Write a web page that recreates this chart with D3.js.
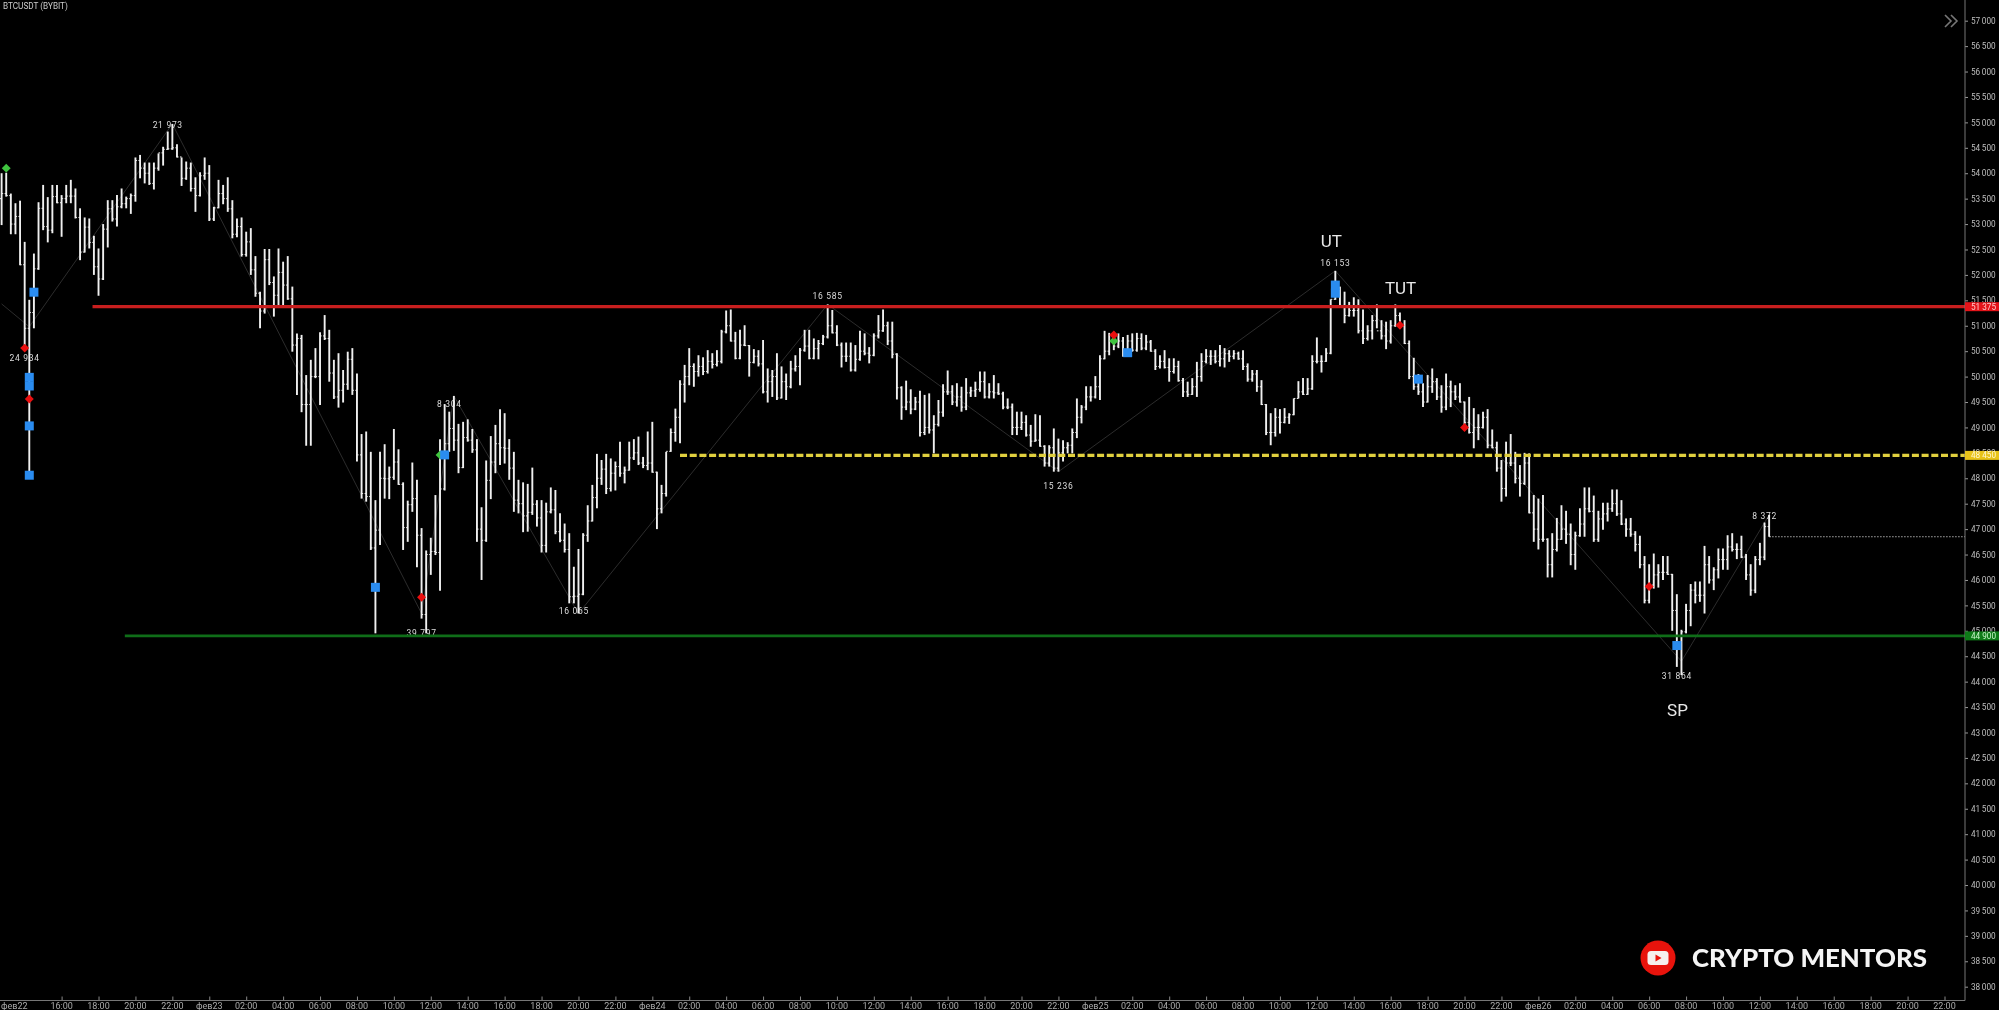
<!DOCTYPE html>
<html><head><meta charset="utf-8">
<style>html,body{margin:0;padding:0;background:#000;overflow:hidden}svg{display:block;filter:blur(0.3px)}text{font-family:Roboto,"Noto Sans",sans-serif}</style>
<script src="https://cdn.jsdelivr.net/npm/d3@7/dist/d3.min.js"></script>
</head><body><svg id="c" width="1999" height="1010"></svg>
<script>
const title="BTCUSDT (BYBIT)";
const brand="CRYPTO MENTORS";
const firstBar=Date.UTC(2021,1,22,12,45);
const barMinutes=15;
const firstOpen=53500;
const highs=[54000,54010,53600,53410,53460,52650,51510,52420,53430,53770,53530,53770,53770,53570,53770,53870,53700,53310,53130,53110,
52770,52520,53000,53470,53470,53570,53700,53540,53600,54310,54360,54210,54210,54210,54390,54520,54820,54970,54570,54310,
54230,54210,53920,54020,54310,54160,53340,53870,53770,53920,53470,53110,53130,52850,52920,52370,51670,52510,52510,51970,
52520,52260,52370,51770,50850,50820,50030,50330,50560,50870,51210,50920,50330,50460,50130,50490,50560,50060,48870,48920,
48520,47570,48520,48670,48230,48970,48570,47920,47560,48310,47970,47020,46580,46830,47670,48770,49460,49310,49620,49070,
49110,49160,48970,48770,47430,48350,48830,49050,49360,49280,48770,48520,47970,47920,47890,48210,47570,47570,47520,47820,
47770,47310,47110,46920,46260,46610,46920,47470,47870,48480,48360,48480,48390,48330,48720,48230,48720,48770,48820,48420,
48920,49110,48130,47870,48520,48980,49370,49930,50230,50560,50260,50420,50380,50520,50460,50520,50920,51300,51320,50880,
50920,51010,50620,50540,50520,50720,50160,50130,50460,50200,50060,50310,50420,50560,50920,50920,50750,50720,50820,51420,
51310,51010,50670,50670,50670,50620,50900,50850,50580,50850,51210,51320,51080,51080,50460,49810,49920,49750,49600,49720,
49640,49670,49240,49540,49850,50120,49830,49870,49800,49970,49800,49900,50100,50100,49870,50030,49870,49700,49570,49470,
49310,49310,49240,49050,49260,49240,48650,48650,48980,48780,48750,48710,48980,49570,49440,49810,49810,50010,50420,50900,
50860,50880,50850,50780,50820,50850,50860,50850,50820,50720,50540,50420,50520,50360,50360,50310,49970,49900,49970,50290,
50460,50540,50520,50520,50620,50560,50520,50520,50490,50520,50260,50130,50130,49930,49460,49280,49380,49360,49380,49280,
49570,49910,49970,49970,50420,50770,50420,50560,51520,52080,51770,51670,51470,51560,51520,51320,51010,51210,51420,51110,
51080,51110,51420,51260,51110,50710,50370,50050,49870,50030,50160,49970,49830,50060,49920,49830,49870,49510,49600,49380,
49260,49310,49360,48960,48720,48360,48720,48870,48520,48260,48500,48490,47670,47600,47670,46820,46920,47220,47470,47360,
47110,46950,47410,47820,47820,47660,47360,47520,47520,47780,47780,47570,47210,47220,46960,46870,46470,46310,46520,46310,
46470,46470,46120,45720,45020,45530,45920,45970,45970,46670,46470,46250,46620,46620,46880,46920,46720,46870,46510,46310,
46470,46730,47130,47280];
const lows=[52980,53540,52800,52800,52190,50560,48060,50950,52100,52880,52640,52820,53410,52750,53410,53410,53110,52290,52440,52520,
52000,51590,51900,52540,53050,52950,53310,53310,53200,53440,53900,53800,53770,53680,54050,54150,54460,54460,54310,53750,
53870,53640,53240,53540,53870,53060,53060,53310,53390,53240,52720,52740,52360,52360,52000,51570,50950,51240,51800,51180,
51380,51380,51510,50490,49640,49300,48640,48640,49970,49440,50720,49900,49560,49390,49490,49740,49640,48330,47600,47540,
46590,44950,46690,47600,47590,47970,47870,46590,46750,47340,46250,45240,44950,46100,46490,45790,47760,48520,48540,48100,
48200,48720,48500,46750,46000,46750,47590,48100,48260,48290,47970,47340,47310,46940,46950,47280,47050,46540,46540,47310,
46900,46740,46540,45540,45540,45340,45700,46750,47150,47410,47870,47690,47740,47760,48030,47900,48150,48360,48260,48200,
48160,48110,47000,47310,47640,48520,48720,48690,49490,49830,49800,50000,50030,50060,50160,50200,50260,50850,50690,50340,
50340,50600,50000,50260,50200,49670,49490,49600,49540,49570,49540,49770,50100,49830,50490,50340,50340,50340,50620,50750,
50850,50600,50180,50290,50100,50100,50310,50420,50260,50400,50750,50880,50620,50360,49550,49150,49340,49260,49340,48820,
48850,48880,48490,49020,49210,49640,49440,49410,49310,49340,49600,49600,49700,49570,49570,49570,49640,49360,49360,48850,
48850,48950,48820,48620,48720,48620,48230,48230,48130,48130,48330,48490,48490,48790,49080,49340,49510,49570,49540,50340,
50420,50520,50560,50390,50490,50490,50490,50520,50520,50490,50130,50160,50160,49900,50060,49900,49600,49600,49640,49600,
49900,50260,50230,50260,50200,50180,50290,50340,50330,50130,49900,49900,49700,49440,48850,48650,48820,48880,49080,49070,
49240,49570,49640,49640,49740,50260,50080,50290,50440,51510,51390,51050,51180,51180,50850,50640,50710,50730,50950,50730,
50540,50650,50980,50950,50640,49950,49740,49640,49400,49490,49680,49540,49290,49340,49400,49540,49490,48980,48880,48590,
48750,48980,48590,48590,48130,47540,47640,48240,47900,47640,47870,47310,46750,46600,46750,46050,46050,46560,46790,46710,
46290,46200,46850,46850,47330,46750,46750,46990,47150,47340,47260,47080,46850,46850,46560,46230,45540,45540,45830,45850,
46000,46100,45000,44290,44130,44950,45090,45540,45570,45340,45930,45800,46030,46200,46200,46560,46410,46430,46000,45690,
45740,46290,46390,46850];
const closes=[53600,53560,53000,53150,52200,50950,51260,52120,53310,52950,52880,53540,53420,53500,53550,53550,53130,52450,52940,52640,
52160,51920,52900,53300,53100,53340,53400,53500,53560,54250,54100,54000,53800,54100,54400,54470,54480,54500,54320,53900,
54100,53700,53560,53950,54000,53100,53320,53600,53500,53300,52800,52950,52400,52650,52100,51640,51290,52300,51850,51600,
52050,51800,51530,50620,50750,49450,49450,50000,50000,50800,50750,50070,49600,49730,49850,50340,49730,48460,47700,47640,
46630,46980,48000,47990,48020,48320,47880,47030,47480,47600,46880,45320,46500,46560,46540,47790,48680,48980,48750,48210,
48800,48750,48560,47000,46780,47960,48320,48680,48600,48590,48200,47570,47500,47260,47330,47490,47220,46680,47340,47380,
46950,46780,46600,45670,45680,45720,46880,47160,47620,48000,48180,47800,48100,48230,48100,48160,48400,48500,48300,48250,
48300,48120,47400,47700,48530,48900,49200,49850,50000,50200,50100,50200,50100,50300,50240,50300,50880,51000,50700,50360,
50620,50610,50280,50400,50250,49700,49900,50000,49580,49900,49800,50150,50200,50520,50600,50360,50550,50650,50780,51000,
50860,50620,50400,50400,50130,50340,50500,50460,50420,50800,50900,51000,50700,50440,49780,49400,49500,49360,49500,48900,
49000,48950,49060,49300,49700,49700,49500,49600,49400,49680,49720,49750,49900,49600,49700,49680,49660,49400,49400,49000,
49000,49100,48850,48730,48750,48630,48300,48600,48200,48500,48600,48650,48900,49200,49400,49600,49600,49800,50350,50500,
50700,50600,50700,50500,50700,50520,50750,50560,50680,50500,50200,50300,50180,50100,50200,49920,49700,49650,49800,50000,
50300,50400,50400,50300,50350,50450,50400,50450,50350,50200,49950,50050,49800,49450,48900,48900,49200,49100,49200,49250,
49570,49700,49650,49760,50300,50300,50300,50460,51520,51600,51400,51200,51300,51300,50900,50750,50900,51100,50900,50800,
50700,51000,51200,51000,50650,50000,49800,49700,49500,49800,49900,49600,49400,49800,49700,49600,49500,49100,48900,49000,
49000,49200,48650,48600,48200,47800,48300,48300,48000,47900,48300,47320,47000,46800,46800,46300,46600,46800,47000,46900,
46500,46870,47100,47400,47350,46800,47200,47300,47400,47500,47300,47100,47000,46900,46700,46300,45600,45900,46100,46150,
46150,46110,45400,44700,44980,45400,45800,45700,45700,46300,46000,46200,46400,46400,46650,46600,46600,46450,46100,45800,
46400,46450,47050,46850];
const zigzagBars=[0,6,37,91,98,125,179,229,289,364,383];
const zigzagPrices=[51430,50980,54970,45340,49620,45340,51420,48130,52080,44400,47280];
const levelPrices=[51375,48450,44900];
const levelStartBars=[19.7,147,26.7];
const levelLabels=["51 375","48 450","44 900"];
const levelColors=["#c81e1e","#e0cf3e","#0f6d18"];
const levelBoxColors=["#e3141a","#e8c31a","#0e7a18"];
const volumeBars=[36,5,97,91,124,179,229,289,363,382];
const volumeAnchor=[54740,50550,49245,44750,45570,51360,48030,52020,44280,47050];
const volumeLabels=["21 973","24 934","8 304","39 797","16 065","16 585","15 236","16 153","31 864","8 372"];
const volumeSide=[-1,1,-1,-1,1,-1,1,-1,1,-1];
const waveBars=[289,304,364];
const waveAnchor=[52550,51625,43330];
const waveLabels=["UT","TUT","SP"];
const blueBars=[7,6,6,6,6,96,81,244,289,289,307,363];
const bluePrices=[51660,49985,49815,49030,48060,48460,45855,50470,51800,51640,49950,44710];
const redBars=[5,6,91,241,303,317,357];
const redPrices=[50560,49560,45660,50820,51010,49000,45870];
const greenBars=[1,95,241];
const greenPrices=[54100,48460,50700];
const lastPrice=46850;
const priceTicks=d3.range(38000,57001,500);
const monthLabel="фев";

const n=Math.min(highs.length,lows.length,closes.length);
const ms=barMinutes*60000;
const barTime=i=>new Date(firstBar+i*ms);
const svg=d3.select("#c");
const W=1999,H=1010,axisX=1965,axisY=1000.5;
const x=d3.scaleUtc().domain([Date.UTC(2021,1,22,16),Date.UTC(2021,1,26,22)]).range([61.6,1944.5]);
const y=d3.scaleLinear().domain([57000,38000]).range([20.7,986.7]);
const bx=i=>x(barTime(i));
svg.append("rect").attr("width",W).attr("height",H).attr("fill","#000");

// zigzag
svg.append("path").attr("fill","none").attr("stroke","#2c2c2c").attr("stroke-width",1)
 .attr("d",d3.line().x(d=>bx(d)).y((d,k)=>y(zigzagPrices[k]))(zigzagBars));

// volume labels below the bars
svg.append("g").selectAll("text").data(volumeLabels).join("text")
 .attr("x",(d,k)=>bx(volumeBars[k])).attr("y",(d,k)=>y(volumeAnchor[k])+(volumeSide[k]<0?-8:12))
 .attr("text-anchor","middle").attr("font-size",8.5).attr("letter-spacing",0.7).attr("fill","#ddd").text(d=>d);

// OHLC bars
const barG=svg.append("g").attr("stroke","#f0f0f0");
d3.range(n).forEach(i=>{
  const cx=bx(i);
  barG.append("line").attr("x1",cx).attr("x2",cx).attr("y1",y(highs[i])).attr("y2",y(lows[i])).attr("stroke-width",1.9);
  const o=i?closes[i-1]:firstOpen;
  barG.append("line").attr("x1",cx-1.6).attr("x2",cx).attr("y1",y(o)).attr("y2",y(o)).attr("stroke-width",1);
  barG.append("line").attr("x1",cx).attr("x2",cx+1.6).attr("y1",y(closes[i])).attr("y2",y(closes[i])).attr("stroke-width",1);
});

// levels
levelPrices.forEach((p,k)=>{
  const l=svg.append("line").attr("x1",bx(levelStartBars[k])).attr("x2",axisX).attr("y1",y(p)).attr("y2",y(p))
    .attr("stroke",levelColors[k]).attr("stroke-width",k===2?2.8:3.2);
  if(k===1) l.attr("stroke-dasharray","7 2.7");
});
svg.append("line").attr("x1",bx(383)+3).attr("x2",axisX).attr("y1",y(lastPrice)).attr("y2",y(lastPrice))
  .attr("stroke","#aaa").attr("stroke-width",1).attr("stroke-dasharray","1.5 1.5");

// markers
const sq=d3.symbol().type(d3.symbolSquare).size(81);
const di=d3.symbol().type(d3.symbolSquare).size(40);
svg.append("g").selectAll("path").data(greenBars).join("path").attr("d",di)
 .attr("fill","#3fc43f").attr("transform",(d,k)=>`translate(${bx(d)},${y(greenPrices[k])}) rotate(45)`);
svg.append("g").selectAll("path").data(redBars).join("path").attr("d",di)
 .attr("fill","#ea0f0f").attr("transform",(d,k)=>`translate(${bx(d)},${y(redPrices[k])}) rotate(45)`);
svg.append("g").selectAll("path").data(blueBars).join("path").attr("d",sq)
 .attr("fill","#2a8cf0").attr("transform",(d,k)=>`translate(${bx(d)},${y(bluePrices[k])})`);

// wave labels
svg.append("g").selectAll("text").data(waveLabels).join("text")
 .attr("x",(d,k)=>bx(waveBars[k])-4).attr("y",(d,k)=>y(waveAnchor[k]))
 .attr("text-anchor","middle").attr("font-size",17).attr("fill","#e8e8e8").text(d=>d);

// price axis
const yAxis=svg.append("g").attr("transform",`translate(${axisX},0)`)
 .call(d3.axisRight(y).tickValues(priceTicks).tickSize(3).tickPadding(3)
   .tickFormat(d=>d3.format(",")(d).replace(",","\u2009")));
yAxis.select(".domain").remove();
yAxis.selectAll("line").attr("stroke","#999");
yAxis.selectAll("text").attr("fill","#bdbdbd").attr("font-size",8.2);
svg.append("line").attr("x1",axisX).attr("x2",axisX).attr("y1",0).attr("y2",axisY).attr("stroke","#777").attr("stroke-width",1);

// time axis
const timeTicks=d3.utcHour.every(2).range(new Date(Date.UTC(2021,1,22,16)),new Date(Date.UTC(2021,1,26,23)));
const tf=d3.utcFormat("%H:00"),df=d3.utcFormat("%d");
const xAxis=svg.append("g").attr("transform",`translate(0,${axisY})`)
 .call(d3.axisTop(x).tickValues(timeTicks).tickSize(4).tickFormat(()=>""));
xAxis.select(".domain").remove();
xAxis.selectAll("line").attr("stroke","#888");
svg.append("line").attr("x1",0).attr("x2",axisX).attr("y1",axisY).attr("y2",axisY).attr("stroke","#777").attr("stroke-width",1);
const tickText=timeTicks.map(t=>t.getUTCHours()===0?monthLabel+df(t):tf(t));
svg.append("g").selectAll("text").data(timeTicks).join("text")
 .attr("x",d=>x(d)).attr("y",1008.5).attr("text-anchor","middle").attr("font-size",9).attr("fill","#aaa")
 .text((d,k)=>tickText[k]);
svg.append("text").attr("x",1).attr("y",1008.5).attr("font-size",9).attr("fill","#aaa").text(monthLabel+"22");

// price boxes
levelPrices.forEach((p,k)=>{
  svg.append("rect").attr("x",axisX).attr("y",y(p)-4.5).attr("width",34).attr("height",9).attr("fill",levelBoxColors[k]);
  svg.append("text").attr("x",axisX+6).attr("y",y(p)+3).attr("font-size",8.2)
    .attr("fill",k===2?"#c8f5c8":k===1?"#fff7d0":"#ffc8c8").text(levelLabels[k]);
});

// title and chrome
svg.append("text").attr("x",3).attr("y",9).attr("font-size",8.2).attr("fill","#ccc").text(title);
svg.append("path").attr("d","M1945 15l6 6l-6 6M1951 15l6 6l-6 6").attr("fill","none").attr("stroke","#777").attr("stroke-width",1.6);

// logo
const logo=svg.append("g").attr("transform","translate(1658,958)");
logo.append("circle").attr("r",17.5).attr("fill","#e8130c");
logo.append("rect").attr("x",-10.5).attr("y",-7).attr("width",21).attr("height",14).attr("rx",3.5).attr("fill","#f6f0ee");
logo.append("path").attr("d","M-2.5 -3.5L3.5 0L-2.5 3.5Z").attr("fill","#e8130c");
svg.append("text").attr("x",1692).attr("y",966.5).attr("font-size",24).attr("font-weight",900)
 .attr("textLength",235).attr("lengthAdjust","spacingAndGlyphs").attr("fill","#f4f4f4")
 .style("font-family","Lato,'Open Sans',sans-serif").text(brand);
</script></body></html>
